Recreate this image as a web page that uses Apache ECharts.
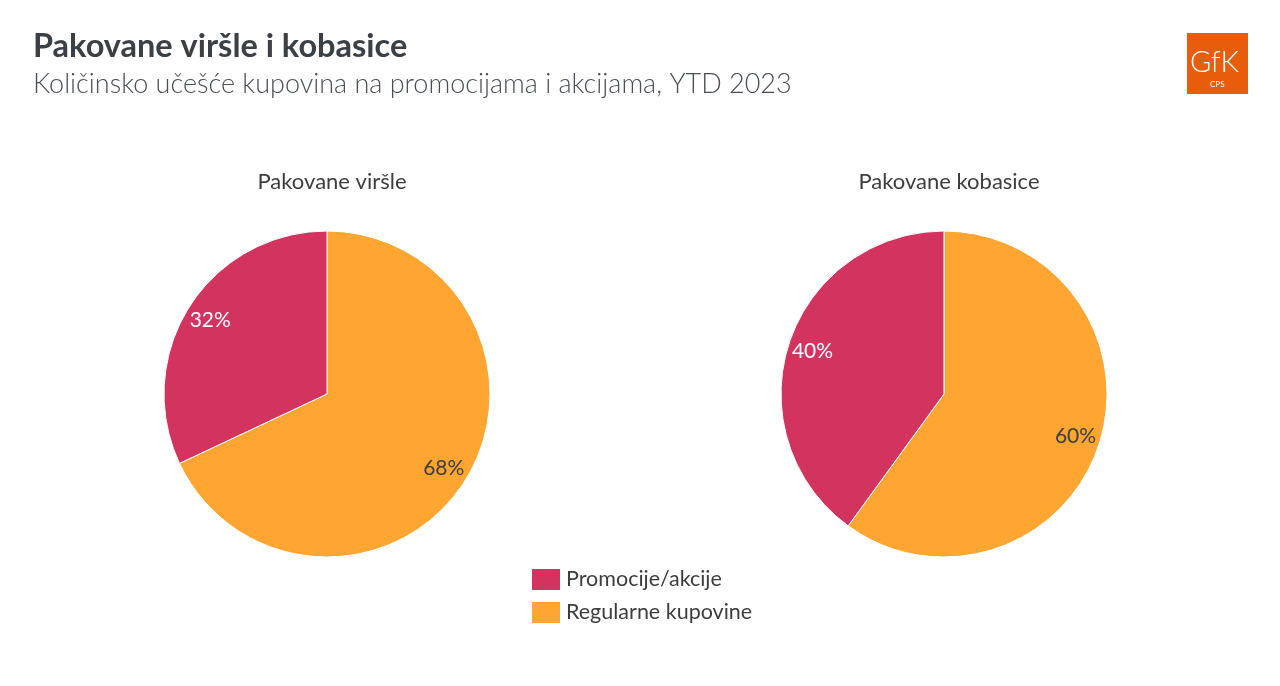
<!DOCTYPE html>
<html>
<head>
<meta charset="utf-8">
<script src="https://cdn.jsdelivr.net/npm/echarts@6/dist/echarts.min.js"></script>
<style>html,body{margin:0;padding:0;background:#fff}#c{width:1280px;height:686px}</style>
</head>
<body>
<div id="c"></div>
<script>
const categories = ['Regularne kupovine', 'Promocije/akcije'];
const legendOrder = ['Promocije/akcije', 'Regularne kupovine'];
const pieTitles = ['Pakovane viršle', 'Pakovane kobasice'];
const virsleValues = [68, 32];
const kobasiceValues = [60, 40];

const colors = {'Promocije/akcije': '#D3335F', 'Regularne kupovine': '#FFA632'};
const labelColors = {'Promocije/akcije': '#ffffff', 'Regularne kupovine': '#3d3d3d'};
const FONT = 'Lato, "Noto Sans", sans-serif';

function mkData(vals) {
  return categories.map((c, i) => ({
    name: c, value: vals[i],
    itemStyle: {color: colors[c]},
    label: {color: labelColors[c]}
  }));
}
const centers = [[327, 394], [944, 394]];
const R = 163;
const series = [];
[virsleValues, kobasiceValues].forEach((vals, k) => {
  series.push({
    type: 'pie', center: centers[k], radius: [0, R], startAngle: 90, clockwise: true,
    data: mkData(vals), label: {show: false}, labelLine: {show: false},
    itemStyle: {borderColor: '#fff', borderWidth: 1}, silent: true, animation: false
  });
  series.push({
    type: 'pie', center: centers[k], radius: [R * 0.66, R], startAngle: 90, clockwise: true,
    data: mkData(vals).map(d => Object.assign(d, {itemStyle: {color: 'rgba(0,0,0,0)'}})),
    label: {show: true, position: 'inside', formatter: '{c}%', fontSize: 21, fontFamily: FONT},
    labelLine: {show: false}, silent: true, animation: false, legendHoverLink: false
  });
});

const chart = echarts.init(document.getElementById('c'), null, {renderer: 'canvas'});
chart.setOption({
  animation: false,
  title: [
    {text: 'Pakovane viršle i kobasice', left: 28, top: 25,
     textStyle: {fontFamily: FONT, fontSize: 32.5, fontWeight: 'bold', color: '#3b4045'}},
    {text: 'Količinsko učešće kupovina na promocijama i akcijama, YTD 2023', left: 28, top: 66,
     textStyle: {fontFamily: FONT, fontSize: 27, fontWeight: 300, color: '#4a4f55'}},
    {text: pieTitles[0], left: 327, top: 166, textAlign: 'center',
     textStyle: {fontFamily: FONT, fontSize: 22, fontWeight: 'normal', color: '#3d3d3d'}},
    {text: pieTitles[1], left: 944, top: 166, textAlign: 'center',
     textStyle: {fontFamily: FONT, fontSize: 22, fontWeight: 'normal', color: '#3d3d3d'}}
  ],
  legend: {
    data: legendOrder, orient: 'vertical', left: 525, top: 562,
    itemWidth: 30, itemHeight: 23, itemGap: 8, icon: 'rect',
    textStyle: {fontFamily: FONT, fontSize: 21.5, color: '#3d3d3d'},
    selectedMode: false
  },
  graphic: [
    {type: 'rect', left: 1187, top: 33, shape: {width: 61, height: 61}, style: {fill: '#E85D0C'}},
    {type: 'text', left: 1190, top: 48, style: {text: 'GfK', fill: '#fff', font: '300 29px Lato, sans-serif'}},
    {type: 'text', left: 1210, top: 80, style: {text: 'CPS', fill: '#fff', font: '8px Lato, sans-serif'}}
  ],
  series: series
});
</script>
</body>
</html>
